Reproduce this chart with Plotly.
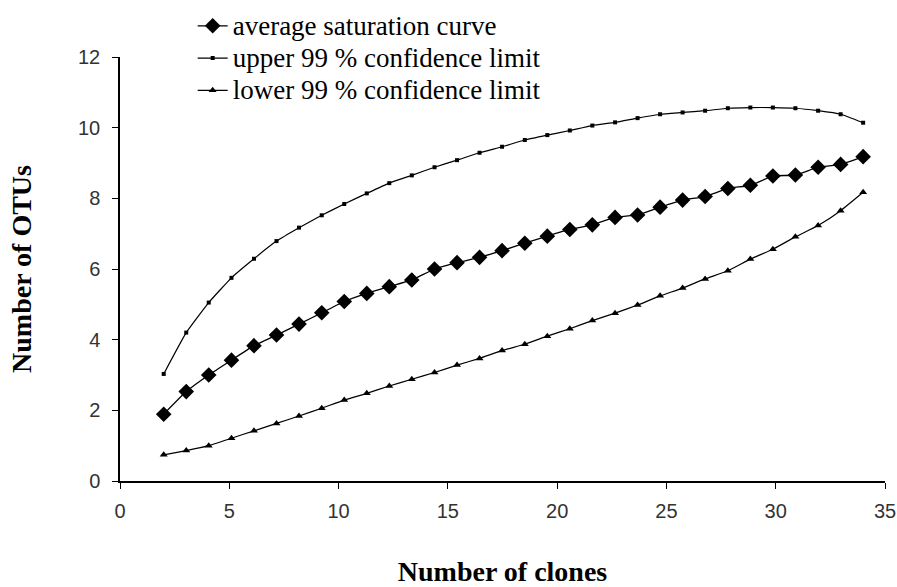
import plotly.graph_objects as go

# Number of clones at which each point was computed
clones = [2.0, 3.03, 4.06, 5.1, 6.13, 7.16, 8.19, 9.23, 10.26, 11.29, 12.32,
          13.35, 14.39, 15.42, 16.45, 17.48, 18.52, 19.55, 20.58, 21.61, 22.65,
          23.68, 24.71, 25.74, 26.77, 27.81, 28.84, 29.87, 30.9, 31.94, 32.97, 34.0]

average_otus = [1.89, 2.53, 3.00, 3.42, 3.83, 4.13, 4.44, 4.76, 5.08, 5.31, 5.50,
                5.69, 6.00, 6.18, 6.33, 6.52, 6.73, 6.93, 7.12, 7.25, 7.46,
                7.53, 7.75, 7.95, 8.05, 8.28, 8.37, 8.63, 8.66, 8.88, 8.96, 9.18]

upper_99 = [3.03, 4.20, 5.05, 5.75, 6.29, 6.79, 7.17, 7.52, 7.84, 8.14, 8.43,
            8.65, 8.88, 9.08, 9.29, 9.46, 9.65, 9.79, 9.92, 10.06, 10.15,
            10.27, 10.38, 10.43, 10.48, 10.55, 10.57, 10.57, 10.55, 10.48, 10.38, 10.14]

lower_99 = [0.74, 0.86, 1.00, 1.21, 1.42, 1.63, 1.84, 2.06, 2.29, 2.48, 2.69,
            2.88, 3.07, 3.28, 3.47, 3.69, 3.87, 4.10, 4.31, 4.54, 4.75,
            4.98, 5.24, 5.46, 5.72, 5.95, 6.28, 6.56, 6.91, 7.23, 7.65, 8.17]

series_names = ["average saturation curve",
                "upper 99 % confidence limit",
                "lower 99 % confidence limit"]

x_ticks = [0, 5, 10, 15, 20, 25, 30, 35]
y_ticks = [0, 2, 4, 6, 8, 10, 12]

serif = "Liberation Serif"
tick_font = "Liberation Sans"


def legend_label(text):
    # larger glyphs than the legend's row pitch, so the entries sit close together
    return '<span style="font-size:27px">' + text + "</span>"


fig = go.Figure()
fig.add_trace(go.Scatter(
    x=clones, y=average_otus, name=legend_label(series_names[0]), mode="lines+markers",
    line=dict(color="black", width=1.3, shape="spline", smoothing=0.4),
    marker=dict(symbol="diamond", size=12, color="black")))
fig.add_trace(go.Scatter(
    x=clones, y=upper_99, name=legend_label(series_names[1]), mode="lines+markers",
    line=dict(color="black", width=1.2, shape="spline", smoothing=0.4),
    marker=dict(symbol="square", size=4, color="black")))
fig.add_trace(go.Scatter(
    x=clones, y=lower_99, name=legend_label(series_names[2]), mode="lines+markers",
    line=dict(color="black", width=1.2, shape="spline", smoothing=0.4),
    marker=dict(symbol="triangle-up", size=7, color="black")))

fig.update_layout(
    width=897, height=587,
    margin=dict(l=120, r=12, t=57, b=106, autoexpand=False),
    paper_bgcolor="white", plot_bgcolor="white",
    showlegend=True,
    legend=dict(x=0.095, y=0.992, yref="container", xanchor="left", yanchor="top",
                font=dict(family=serif, size=22.5, color="black"),
                bgcolor="rgba(0,0,0,0)", itemwidth=30,
                tracegroupgap=0),
    font=dict(family=serif, color="black"),
)

fig.update_xaxes(
    range=[0, 35], tickvals=x_ticks, ticktext=[str(v) for v in x_ticks],
    showgrid=False, zeroline=False,
    showline=True, linecolor="black", linewidth=1.5,
    ticks="outside", ticklen=6, tickwidth=1, tickcolor="black",
    tickfont=dict(family=tick_font, size=20, color="#333"),
    ticklabelstandoff=5,
    title=dict(text="<b>Number of clones</b>",
               font=dict(family=serif, size=28, color="black"),
               standoff=50),
)
fig.update_yaxes(
    range=[0, 12], tickvals=y_ticks, ticktext=[str(v) for v in y_ticks],
    showgrid=False, zeroline=False,
    showline=True, linecolor="black", linewidth=1.5,
    ticks="outside", ticklen=6, tickwidth=1, tickcolor="black",
    tickfont=dict(family=tick_font, size=20, color="#333"),
    ticklabelstandoff=8,
    title=dict(text="<b>Number of OTUs</b>",
               font=dict(family=serif, size=28, color="black"),
               standoff=38),
)

fig.write_html("out.html")
